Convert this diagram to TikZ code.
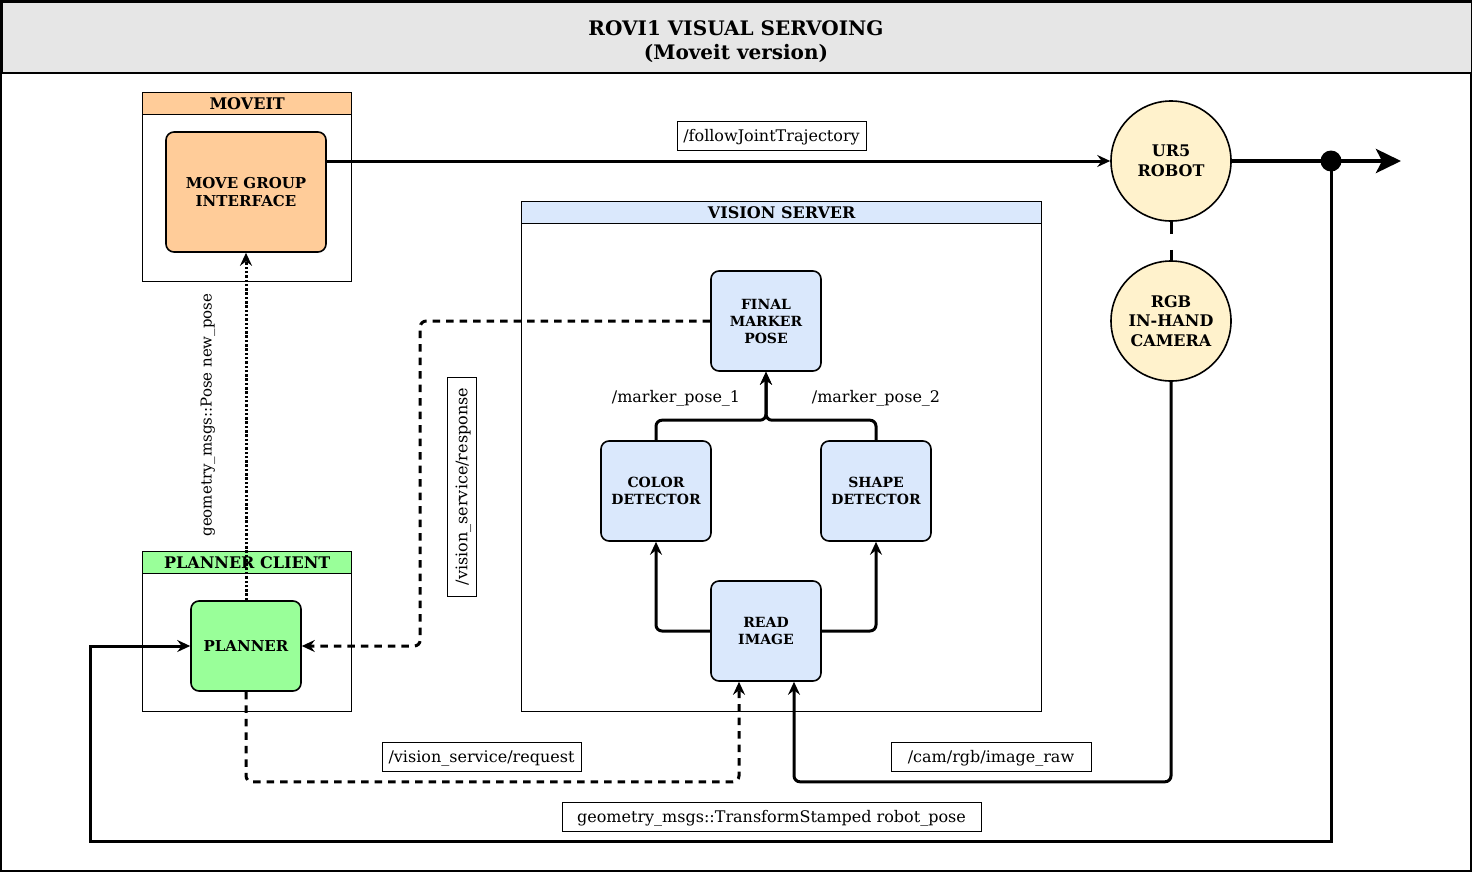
\documentclass[tikz,border=0pt]{standalone}
\usepackage{fontspec}
\setmainfont{DejaVu Serif}
\usetikzlibrary{arrows.meta}
\definecolor{titlegray}{HTML}{E6E6E6}
\definecolor{orangefill}{HTML}{FFCC99}
\definecolor{bluefill}{HTML}{DAE8FC}
\definecolor{greenfill}{HTML}{99FF99}
\definecolor{yellowfill}{HTML}{FFF2CC}
\tikzset{
  cont/.style={draw, line width=1.4pt, fill=white, anchor=north west, inner sep=0pt},
  hdr/.style={draw, line width=1.4pt, anchor=north west, inner sep=0pt, minimum height=22pt, text height=12pt, text depth=1pt, font=\bfseries\fontsize{16}{19}\selectfont},
  proc/.style={draw, line width=1.6pt, rounded corners=8pt, align=center, inner sep=0pt, minimum width=110pt, minimum height=100pt, fill=bluefill, font=\bfseries\fontsize{14}{17}\selectfont},
  ball/.style={circle, draw, line width=1.6pt, fill=yellowfill, minimum size=120pt, inner sep=0pt, align=center, font=\bfseries\fontsize{16}{19.5}\selectfont},
  lbl/.style={draw, line width=1pt, fill=white, inner sep=0pt, minimum height=29pt, text height=12.5pt, text depth=1pt, font=\fontsize{16}{19}\selectfont},
  plainlbl/.style={inner sep=0pt, font=\fontsize{16}{19}\selectfont},
  tip/.style={-{Stealth[length=13pt,width=12pt,inset=4.5pt]}},
  conn/.style={line width=3pt, tip},
  dconn/.style={line width=3pt, tip, dash pattern=on 7.5pt off 6pt},
  dotconn/.style={line width=3pt, tip, dash pattern=on 2.5pt off 1.8pt}
}
\begin{document}
\begin{tikzpicture}[x=1pt,y=-1pt]
\useasboundingbox (0,0) rectangle (1472,873);
% frame and title
\draw[line width=1.5pt] (1,1) rectangle (1471,871);
\node[draw, line width=1.5pt, fill=titlegray, anchor=north west, minimum width=1470pt, minimum height=71pt, inner sep=0pt] (title) at (1,1) {};
\node[inner sep=0pt, align=center, font=\bfseries\fontsize{20}{24}\selectfont] (titletext) at (736,42) {ROVI1 VISUAL SERVOING\\(Moveit version)};
% containers
\node[cont, minimum width=209pt, minimum height=189pt] (moveit) at (142,92) {};
\node[hdr, fill=orangefill, minimum width=209pt] (moveithdr) at (142,92) {MOVEIT};
\node[cont, minimum width=520pt, minimum height=510pt] (vision) at (521,201) {};
\node[hdr, fill=bluefill, minimum width=520pt] (visionhdr) at (521,201) {VISION SERVER};
\node[cont, minimum width=209pt, minimum height=160pt] (client) at (142,551) {};
\node[hdr, fill=greenfill, minimum width=209pt] (clienthdr) at (142,551) {PLANNER CLIENT};
% process nodes
\node[proc, fill=orangefill, minimum width=160pt, minimum height=120pt, font=\bfseries\fontsize{15}{17.5}\selectfont] (mgi) at (246,192) {MOVE GROUP\\INTERFACE};
\node[proc, fill=greenfill, minimum width=110pt, minimum height=90pt, font=\bfseries\fontsize{15}{17.5}\selectfont] (planner) at (246,646) {PLANNER};
\node[proc] (final) at (766,321) {FINAL\\MARKER\\POSE};
\node[proc] (color) at (656,491) {COLOR\\DETECTOR};
\node[proc] (shape) at (876,491) {SHAPE\\DETECTOR};
\node[proc] (read) at (766,631) {READ\\IMAGE};
\node[ball] (ur5) at (1171,161) {UR5\\ROBOT};
\node[ball] (cam) at (1171,321) {RGB\\IN-HAND\\CAMERA};
% labels
\node[lbl, minimum width=189pt] (ljt) at (771.5,136) {/followJointTrajectory};
\node[lbl, minimum width=199pt] (lreq) at (481.5,756.5) {/vision\_service/request};
\node[lbl, minimum width=200pt] (lcam) at (991,756.5) {/cam/rgb/image\_raw};
\node[lbl, minimum width=419pt] (lpose) at (771.5,816.5) {geometry\_msgs::TransformStamped robot\_pose};
\node[lbl, minimum width=219pt, rotate=90] (lresp) at (461.5,486.5) {/vision\_service/response};
\node[plainlbl, rotate=90, font=\fontsize{15}{18}\selectfont] (lnew) at (208,415) {geometry\_msgs::Pose new\_pose};
\node[plainlbl] (lm1) at (676,398) {/marker\_pose\_1};
\node[plainlbl] (lm2) at (876,398) {/marker\_pose\_2};
% connectors
\draw[conn] (mgi.east |- ur5.west) -- (ur5.west);
\draw[line width=3pt, dash pattern=on 12pt off 16pt] (ur5.south) -- (cam.north);
\coordinate (outend) at (1401,161);
\draw[line width=4.2pt, -{Stealth[length=25pt,width=24pt,inset=6pt]}] (ur5.east) -- (outend);
\node[circle, fill=black, inner sep=0pt, minimum size=21pt] (dot) at (1331,161) {};
\draw[conn] (dot.center) -- ++(0,680) -| ([xshift=-100pt]planner.west) -- (planner.west);
\draw[dotconn] (planner.north) -- (mgi.south);
\draw[conn, rounded corners=6pt] (color.north) -- ++(0,-20) -| (final.south);
\draw[conn, rounded corners=6pt] (shape.north) -- ++(0,-20) -| (final.south);
\draw[conn, rounded corners=6pt] (read.west) -| (color.south);
\draw[conn, rounded corners=6pt] (read.east) -| (shape.south);
\draw[dconn, rounded corners=6pt] (final.west) -- ++(-290,0) |- (planner.east);
\draw[dconn, rounded corners=6pt] (planner.south) -- ++(0,90) -| ([xshift=-27pt]read.south);
\draw[conn, rounded corners=6pt] (cam.south) -- ++(0,400) -| ([xshift=28pt]read.south);
\end{tikzpicture}
\end{document}
